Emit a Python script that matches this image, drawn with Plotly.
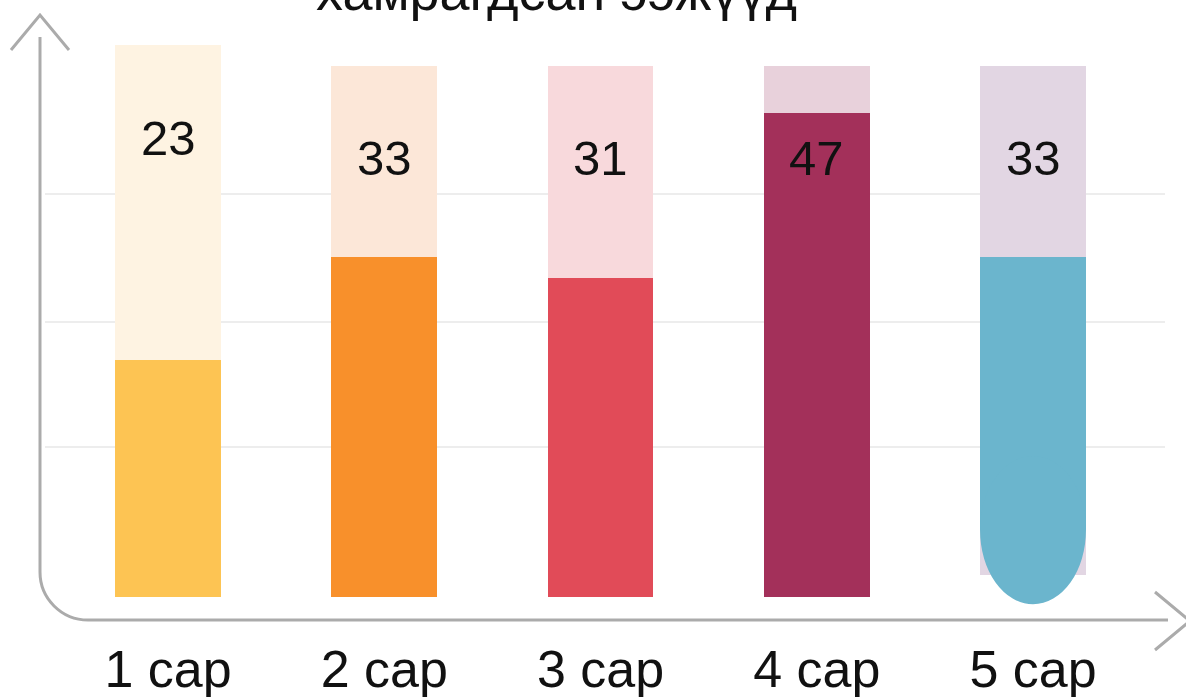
import plotly.graph_objects as go

# ---- data ----
categories = ["1 сар", "2 сар", "3 сар", "4 сар", "5 сар"]
values = [23, 33, 31, 47, 33]
background_level = [53.6, 51.6, 51.6, 51.6, 51.6]
title_text = "хамрагдсан ээжүүд"
grid_values = [14.6, 26.7, 39.1]

# ---- style ----
fill_colors = ["#FDC453", "#F8902B", "#E14B58", "#A3305A", "#6BB5CD"]
bg_colors = ["#FEF3E2", "#FCE7D8", "#F8D9DC", "#E8D1DB", "#E2D6E3"]
FONT = "Liberation Sans, Arial, sans-serif"
BAR_W = 0.49
ROUND_IDX = 4          # bar drawn with a rounded (bulb) bottom
BULB_CENTER = 6.5      # value-units
BULB_HALF = 7.2
BG_LIFT = 2.1          # background of rounded bar starts slightly above baseline
LABEL_DROP = 9.0

W, H = 1186, 697
PLOT_BOTTOM = 634      # px of plot-area bottom
ZERO_Y = 597           # px of value 0
PX_PER_UNIT_Y = 10.3
PX_PER_UNIT_X = 216.25
FIRST_X = 168          # px of first category
ML, MR, MT = 45, 21, 0
MB = H - PLOT_BOTTOM
PW, PH = W - ML - MR, H - MT - MB

x = list(range(len(categories)))
fill_base = [BULB_CENTER if i == ROUND_IDX else 0 for i in x]
bg_base = [BG_LIFT if i == ROUND_IDX else 0 for i in x]

fig = go.Figure()
fig.add_trace(go.Bar(
    x=x, y=[b - s for b, s in zip(background_level, bg_base)], base=bg_base,
    width=BAR_W, marker=dict(color=bg_colors, line=dict(width=0)),
    hoverinfo="skip", showlegend=False))
fig.add_trace(go.Bar(
    x=x, y=[v - s for v, s in zip(values, fill_base)], base=fill_base,
    width=BAR_W, marker=dict(color=fill_colors, line=dict(width=0)),
    hoverinfo="skip", showlegend=False))

# rounded bottom of the last bar
fig.add_shape(type="circle", xref="x", yref="y",
              x0=ROUND_IDX - BAR_W / 2, x1=ROUND_IDX + BAR_W / 2,
              y0=BULB_CENTER - BULB_HALF, y1=BULB_CENTER + BULB_HALF,
              fillcolor=fill_colors[ROUND_IDX], line=dict(width=0), layer="above")

# value labels
for i, (v, bg) in enumerate(zip(values, background_level)):
    fig.add_annotation(x=i, y=bg - LABEL_DROP, xref="x", yref="y", text=str(v),
                       showarrow=False, yanchor="middle",
                       font=dict(family=FONT, size=49, color="#111111"))

# helpers: pixel -> paper coords for decorative axis arrows
def px(xp):
    return (xp - ML) / PW

def py(yp):
    return (H - MB - yp) / PH

r = 48
k = 0.552 * r
axis_path = (f"M {px(40)},{py(37)} L {px(40)},{py(620 - r)} "
             f"C {px(40)},{py(620 - r + k)} {px(40 + r - k)},{py(620)} {px(40 + r)},{py(620)} "
             f"L {px(1168)},{py(620)}")
fig.add_shape(type="path", xref="paper", yref="paper", path=axis_path,
              line=dict(color="#ABABAB", width=3))
fig.add_shape(type="path", xref="paper", yref="paper",
              path=f"M {px(11)},{py(50)} L {px(40)},{py(15)} L {px(69)},{py(50)}",
              line=dict(color="#ABABAB", width=3))
fig.add_shape(type="path", xref="paper", yref="paper",
              path=f"M {px(1155)},{py(592)} L {px(1190)},{py(621)} L {px(1155)},{py(650)}",
              line=dict(color="#ABABAB", width=3))

# title (partially cut off at top, as in the reference)
fig.add_annotation(x=px(556), y=py(23), xref="paper", yref="paper", text=title_text,
                   showarrow=False, yanchor="bottom",
                   font=dict(family=FONT, size=54, color="#111111"))

x0 = -(FIRST_X - ML) / PX_PER_UNIT_X
fig.update_layout(
    width=W, height=H, margin=dict(l=ML, r=MR, t=MT, b=MB, autoexpand=False),
    paper_bgcolor="white", plot_bgcolor="white",
    barmode="overlay", bargap=0,
    xaxis=dict(range=[x0, x0 + PW / PX_PER_UNIT_X], automargin=False,
               tickmode="array", tickvals=x, ticktext=categories,
               showgrid=False, zeroline=False, showline=False, ticks="",
               tickfont=dict(family=FONT, size=52, color="#111111")),
    yaxis=dict(range=[-(PLOT_BOTTOM - ZERO_Y) / PX_PER_UNIT_Y, ZERO_Y / PX_PER_UNIT_Y],
               automargin=False,
               tickmode="array", tickvals=grid_values,
               showticklabels=False, showgrid=True, gridcolor="#EDEDED", gridwidth=1.5,
               zeroline=False, showline=False, ticks=""),
)

# remove the default 8px page margin so the figure sits at the window's corner
fig.write_html("out.html", config={"displayModeBar": False},
               post_script="document.body.style.margin='0';")
